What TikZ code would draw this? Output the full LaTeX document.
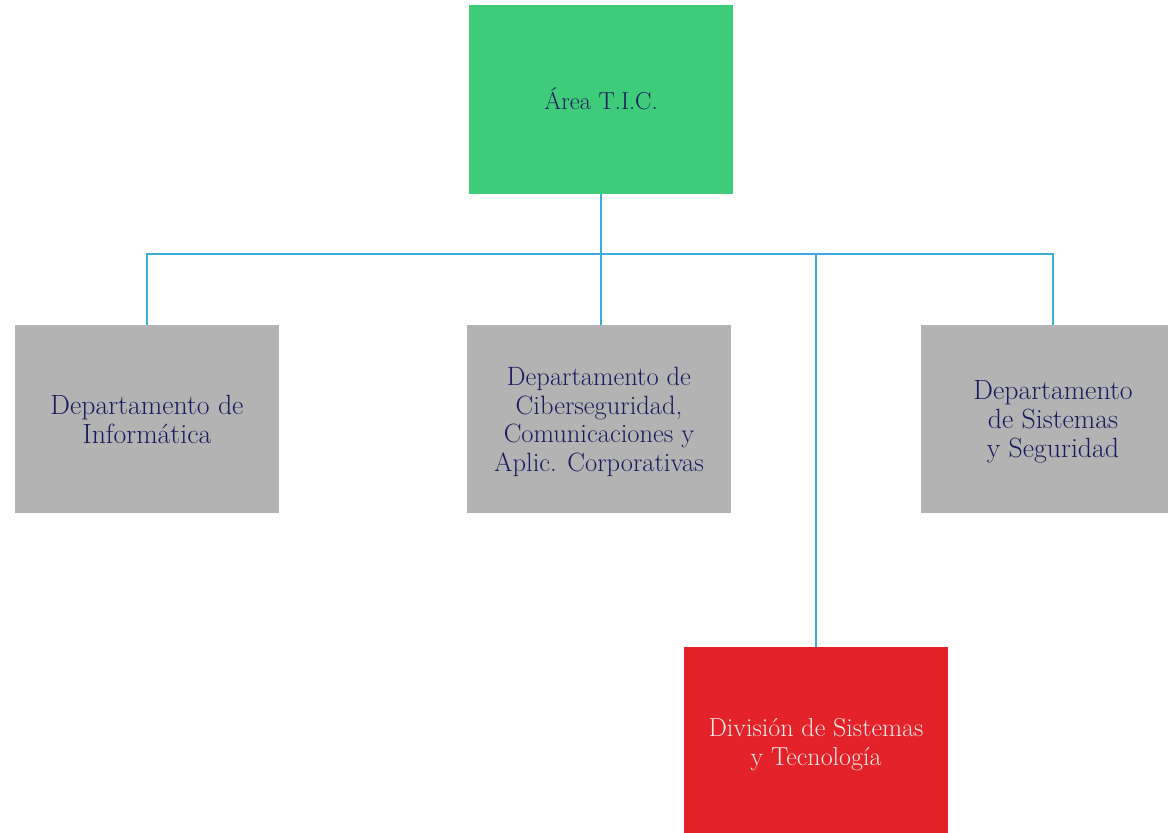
\documentclass[tikz,border=0pt]{standalone}
\usepackage{fontspec}
\definecolor{tgreen}{HTML}{3ECC7B}
\definecolor{tgray}{HTML}{B3B3B3}
\definecolor{tred}{HTML}{E32329}
\definecolor{tline}{HTML}{3BAED9}
\definecolor{tnavy}{HTML}{1A1A5E}
\definecolor{tpink}{HTML}{FCE8E8}
\begin{document}
\begin{tikzpicture}[x=1pt,y=-1pt,
  box/.style={minimum width=264pt,minimum height=188pt,inner sep=0pt},
  lbl/.style={inner sep=0pt,align=center,text=tnavy},
  txt/.style={font=\fontsize{26.5}{28.5}\selectfont},
  btxt/.style={font=\fontsize{27.8}{29}\selectfont\addfontfeature{FakeBold=0.5}},
  conn/.style={draw=tline,line width=2.5pt}]
\useasboundingbox (0,0) rectangle (1168,833);
\clip (0,0) rectangle (1168,833);
\node[box,fill=tgreen,minimum height=189pt] (tic) at (601,99.5) {};
\node[box,fill=tgray] (inf) at (147,419) {};
\node[box,fill=tgray] (cib) at (599,419) {};
\node[box,fill=tgray] (sis) at (1053,419) {};
\node[box,fill=tred,minimum height=186pt] (div) at (816,740) {};
\node[lbl,font=\fontsize{24.5}{28.5}\selectfont] (tict) at ([yshift=1pt]tic.center) {Área T.I.C.};
\node[lbl,btxt] (inft) at (inf.center) {Departamento de\\Informática};
\node[lbl,txt] (cibt) at ([yshift=-3pt]cib.center) {Departamento de\\Ciberseguridad,\\Comunicaciones y\\Aplic. Corporativas};
\node[lbl,btxt] (sist) at ([yshift=-3pt]sis.center) {Departamento\\de Sistemas\\y Seguridad};
\node[lbl,font=\fontsize{26}{29}\selectfont,text=tpink] (divt) at ([yshift=-5pt]div.center) {División de Sistemas\\y Tecnología};
\coordinate (bus) at (601,254);
\coordinate (cibtop) at (601,325);
\draw[conn] (tic.south) -- (bus);
\draw[conn] (inf.north) |- (bus -| sis.north) -- (sis.north);
\draw[conn] (bus) -- (cibtop);
\draw[conn] (bus -| div.north) -- (div.north);
\end{tikzpicture}
\end{document}
